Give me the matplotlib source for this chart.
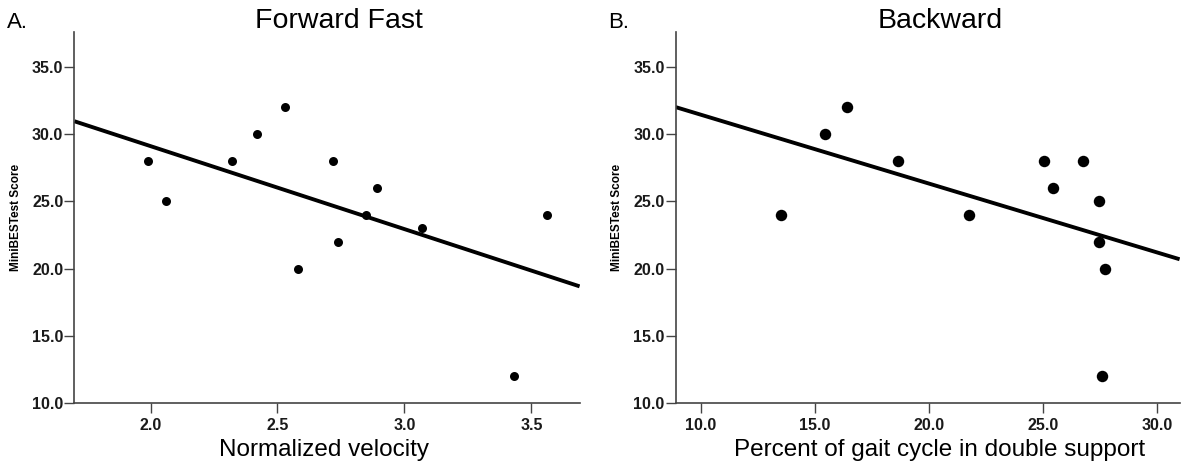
import numpy as np
import matplotlib
matplotlib.use("Agg")
import matplotlib.pyplot as plt

plt.rcParams["font.family"] = ["Liberation Sans", "DejaVu Sans"]

# Panel A: forward fast
fwd_velocity = [1.99, 2.06, 2.32, 2.42, 2.53, 2.58, 2.72, 2.74, 2.85, 2.89, 3.07, 3.43, 3.56]
fwd_score = [28, 25, 28, 30, 32, 20, 28, 22, 24, 26, 23, 12, 24]

# Panel B: backward
bwd_double_support = [13.5, 15.45, 16.4, 18.65, 21.77, 25.07, 25.43, 26.77, 27.48, 27.48, 27.72, 27.58]
bwd_score = [24, 30, 32, 28, 24, 28, 26, 28, 25, 22, 20, 12]

y_ticks = [10.0, 15.0, 20.0, 25.0, 30.0, 35.0]
fwd_x_ticks = [2.0, 2.5, 3.0, 3.5]
bwd_x_ticks = [10.0, 15.0, 20.0, 25.0, 30.0]

SPINE = "#444444"

fig = plt.figure(figsize=(12, 4.66), dpi=100)
ax_a = fig.add_axes([0.062, 0.135, 0.421, 0.796])
ax_b = fig.add_axes([0.563, 0.135, 0.420, 0.796])


def style_panel(ax, x, y, xlim, xticks, marker_size, title, letter, xlabel, xlabel_x):
    ax.scatter(x, y, s=marker_size, color="black", zorder=3, linewidths=0)
    slope, icpt = np.polyfit(x, y, 1)
    xs = np.array(xlim)
    ax.plot(xs, slope * xs + icpt, color="black", lw=2.8, zorder=2,
            solid_capstyle="butt")
    ax.set_xlim(*xlim)
    ax.set_ylim(10, 37.6)
    ax.set_yticks(y_ticks)
    ax.set_yticklabels([f"{v:.1f}" for v in y_ticks])
    ax.set_xticks(xticks)
    ax.set_xticklabels([f"{v:.1f}" for v in xticks])
    for side in ("top", "right"):
        ax.spines[side].set_visible(False)
    for side in ("left", "bottom"):
        ax.spines[side].set_color(SPINE)
        ax.spines[side].set_linewidth(1.2)
    ax.tick_params(axis="both", direction="out", length=7, width=1,
                   color=SPINE, labelsize=11.5, pad=1)
    ax.tick_params(axis="x", pad=4)
    for lbl in ax.get_xticklabels() + ax.get_yticklabels():
        lbl.set_fontweight("bold")
        lbl.set_color("#1a1a1a")
    ax.set_ylabel("MiniBESTest Score", fontsize=8.5, fontweight="bold")
    ax.yaxis.set_label_coords(-0.104, 0.5)
    ax.set_xlabel(xlabel, fontsize=17.5, va="baseline")
    ax.xaxis.set_label_coords(xlabel_x, -0.143)
    ax.set_title(title, fontsize=20.5, x=0.524, y=1.011, pad=0, va="baseline")
    ax.text(-0.134, 1.011, letter, transform=ax.transAxes, fontsize=16,
            ha="left", va="baseline")


style_panel(ax_a, fwd_velocity, fwd_score, (1.70, 3.69), fwd_x_ticks,
            42, "Forward Fast", "A.", "Normalized velocity", 0.495)
style_panel(ax_b, bwd_double_support, bwd_score, (8.9, 31.0), bwd_x_ticks,
            68, "Backward", "B.", "Percent of gait cycle in double support", 0.524)

fig.savefig("out.png", dpi=100)
